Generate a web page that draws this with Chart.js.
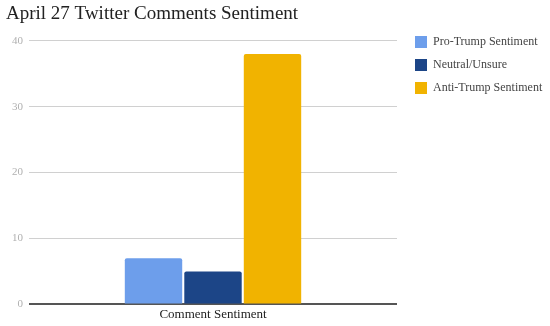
<!DOCTYPE html>
<html>
<head>
<meta charset="utf-8">
<script src="https://cdn.jsdelivr.net/npm/chart.js@4"></script>
<style>
  body { margin: 0; background: #fff; }
  #wrap { width: 550px; height: 326px; }
</style>
</head>
<body>
<div id="wrap"><canvas id="myChart" width="550" height="326"></canvas></div>
<script>
// datos
const categorias = ['Comment Sentiment'];
const series = ['Pro-Trump Sentiment', 'Neutral/Unsure', 'Anti-Trump Sentiment'];
const valores = [[7], [5], [38]];
const colores = ['#6d9eeb', '#1c4587', '#f1b300'];
const ticksY = [0, 10, 20, 30, 40];

const serif = "'Liberation Serif', 'DejaVu Serif', serif";

const ctx = document.getElementById('myChart').getContext('2d');

// ancho fijo para la leyenda y pequeño desplazamiento para dejarla como en el original
const ajusteLeyenda = {
    id: 'ajusteLeyenda',
    beforeInit(chart) {
        const fitOriginal = chart.legend.fit;
        chart.legend.fit = function () {
            fitOriginal.call(this);
            this.width = 153;
        };
    },
    afterLayout(chart) {
        const l = chart.legend;
        l.left += 7;
        l.right += 7;
        l.top += 25;
        l.bottom += 25;
    }
};

const chart = new Chart(ctx, {
    type: 'bar',
    data: {
        labels: categorias,
        datasets: series.map((nombre, i) => ({
            label: nombre,
            data: valores[i],
            backgroundColor: colores[i],
            borderRadius: { topLeft: 2, topRight: 2 },
            borderSkipped: 'bottom',
            categoryPercentage: 0.485,
            barPercentage: 0.965
        }))
    },
    options: {
        responsive: false,
        animation: false,
        layout: { padding: { left: 6, right: 0, top: 0, bottom: 2 } },
        scales: {
            x: {
                grid: { display: false, drawTicks: false },
                border: { display: false },
                ticks: {
                    color: '#222',
                    font: { family: serif, size: 13 },
                    padding: 2
                }
            },
            y: {
                min: 0,
                max: 40,
                afterBuildTicks: (axis) => { axis.ticks = ticksY.map(v => ({ value: v })); },
                border: { display: false },
                grid: {
                    drawTicks: false,
                    color: (c) => c.tick && c.tick.value === 0 ? '#555' : '#d0d0d0',
                    lineWidth: (c) => c.tick && c.tick.value === 0 ? 2 : 1
                },
                ticks: {
                    color: '#b0b0b0',
                    font: { family: serif, size: 11 },
                    padding: 6
                }
            }
        },
        plugins: {
            title: {
                display: true,
                text: 'April 27 Twitter Comments Sentiment',
                align: 'start',
                color: '#222',
                font: { family: serif, size: 19, weight: 'normal' },
                padding: { top: 3, bottom: 15 }
            },
            legend: {
                position: 'right',
                align: 'start',
                labels: {
                    color: '#444',
                    font: { family: serif, size: 12 },
                    boxWidth: 12,
                    boxHeight: 12,
                    padding: 11
                }
            },
            tooltip: { enabled: false }
        }
    },
    plugins: [ajusteLeyenda]
});
</script>
</body>
</html>
